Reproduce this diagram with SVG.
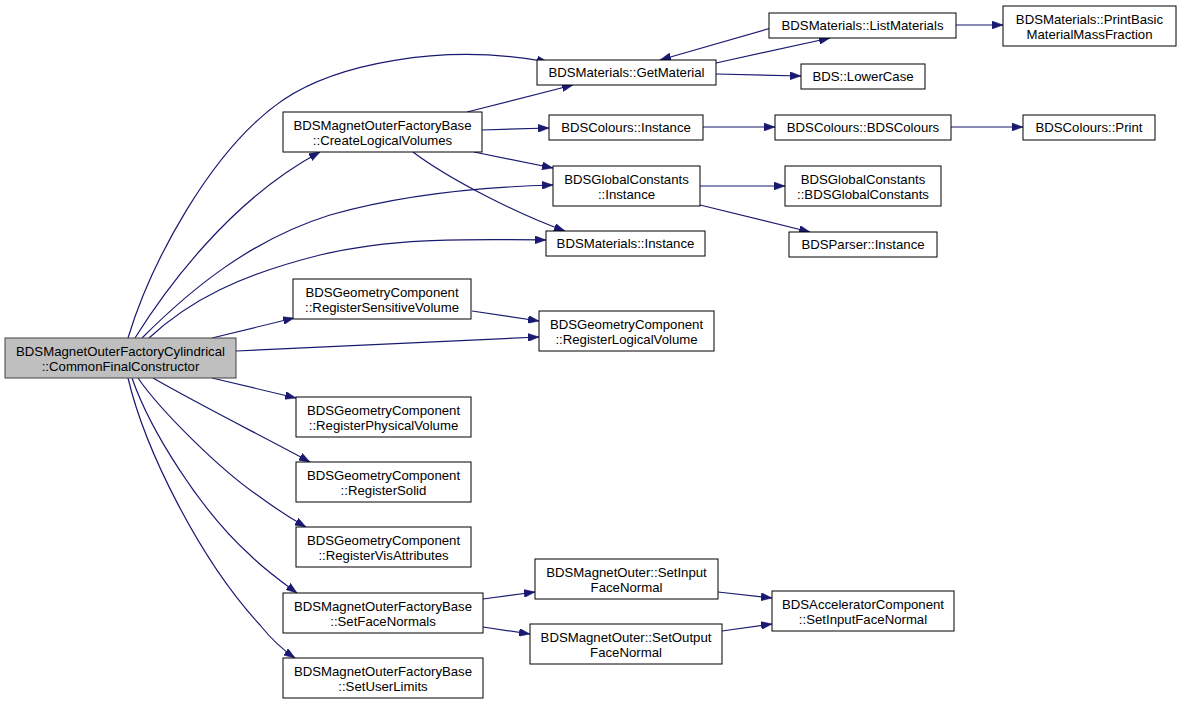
<svg xmlns="http://www.w3.org/2000/svg" width="1180" height="704" viewBox="0 0 1180 704">
<defs>
<style>
.n rect{fill:#ffffff;stroke:#000000;stroke-width:1}
.n.main rect{fill:#bfbfbf;stroke:#404040}
.n text{font-family:"Liberation Sans",Arial,Helvetica,sans-serif;font-size:13.2px;fill:#000000;text-anchor:middle}
.e path{fill:none;stroke:#191970;stroke-width:1.2;marker-end:url(#ah)}
</style>
<marker id="ah" viewBox="0 0 11 8" refX="11" refY="4" markerWidth="11" markerHeight="8" markerUnits="userSpaceOnUse" orient="auto">
<path d="M0,0 L11,4 L0,8 z" fill="#191970" stroke="#191970" stroke-width="0.5"/>
</marker>
</defs>
<rect width="1180" height="704" fill="#ffffff"/>
<g id="connectors" class="e">
<path d="M128,338 C150,265 210,150 283,100 C335,65 440,42 548,62"/>
<path d="M135,338 C165,290 230,200 320,152"/>
<path d="M142,338 C190,290 250,240 330,215 C400,195 480,187 553,185"/>
<path d="M149,338 C190,300 240,275 320,255 C390,238 460,239 546,240"/>
<path d="M212,338 L294,318"/>
<path d="M236,351 L539,337"/>
<path d="M212,378 L296,398"/>
<path d="M153,378 C200,405 260,435 310,462"/>
<path d="M138,378 C160,410 220,470 260,497 C275,508 290,518 306,527"/>
<path d="M132,378 C150,430 200,510 250,555 C265,570 282,582 297,593"/>
<path d="M128,378 C145,450 200,560 260,625 C272,640 283,650 295,658"/>
<path d="M467,112 L573,85"/>
<path d="M482,130 L549,128"/>
<path d="M474,152 L553,168"/>
<path d="M413,152 C450,180 520,215 565,231"/>
<path d="M716,63 L830,38"/>
<path d="M771,28 L660,60"/>
<path d="M716,74 L801,76"/>
<path d="M956,25 L1003,25"/>
<path d="M703,127 L775,127"/>
<path d="M951,127 L1023,127"/>
<path d="M700,186 L785,186"/>
<path d="M700,205 L810,232"/>
<path d="M472,311 L539,321"/>
<path d="M483,599 L535,592"/>
<path d="M483,627 L530,634"/>
<path d="M718,592 L772,598"/>
<path d="M722,631 L772,624"/>
</g>
<g id="n_main" class="n main"><rect x="5" y="338" width="231" height="40"/><text x="120.5" y="356">BDSMagnetOuterFactoryCylindrical</text><text x="120.5" y="371">::CommonFinalConstructor</text></g>
<g id="n_createlogical" class="n"><rect x="283" y="112" width="199" height="40"/><text x="382.5" y="130">BDSMagnetOuterFactoryBase</text><text x="382.5" y="145">::CreateLogicalVolumes</text></g>
<g id="n_getmaterial" class="n"><rect x="537" y="60" width="179" height="25"/><text x="626.5" y="77">BDSMaterials::GetMaterial</text></g>
<g id="n_listmaterials" class="n"><rect x="769" y="13" width="187" height="25"/><text x="862.5" y="30">BDSMaterials::ListMaterials</text></g>
<g id="n_printbasic" class="n"><rect x="1003" y="6" width="173" height="40"/><text x="1089.5" y="24">BDSMaterials::PrintBasic</text><text x="1089.5" y="39">MaterialMassFraction</text></g>
<g id="n_lowercase" class="n"><rect x="801" y="64" width="124" height="25"/><text x="863" y="81">BDS::LowerCase</text></g>
<g id="n_coloursinstance" class="n"><rect x="549" y="115" width="154" height="25"/><text x="626" y="132">BDSColours::Instance</text></g>
<g id="n_bdscolours" class="n"><rect x="775" y="115" width="176" height="25"/><text x="863" y="132">BDSColours::BDSColours</text></g>
<g id="n_colourprint" class="n"><rect x="1023" y="115" width="132" height="25"/><text x="1089" y="132">BDSColours::Print</text></g>
<g id="n_gcinstance" class="n"><rect x="553" y="166" width="147" height="40"/><text x="626.5" y="184">BDSGlobalConstants</text><text x="626.5" y="199">::Instance</text></g>
<g id="n_gcctor" class="n"><rect x="785" y="166" width="156" height="40"/><text x="863" y="184">BDSGlobalConstants</text><text x="863" y="199">::BDSGlobalConstants</text></g>
<g id="n_matinstance" class="n"><rect x="546" y="231" width="159" height="25"/><text x="625.5" y="248">BDSMaterials::Instance</text></g>
<g id="n_parserinstance" class="n"><rect x="789" y="232" width="148" height="25"/><text x="863" y="249">BDSParser::Instance</text></g>
<g id="n_regsensitive" class="n"><rect x="293" y="279" width="178" height="40"/><text x="382" y="297">BDSGeometryComponent</text><text x="382" y="312">::RegisterSensitiveVolume</text></g>
<g id="n_reglogical" class="n"><rect x="539" y="311" width="175" height="40"/><text x="626.5" y="329">BDSGeometryComponent</text><text x="626.5" y="344">::RegisterLogicalVolume</text></g>
<g id="n_regphysical" class="n"><rect x="296" y="397" width="175" height="40"/><text x="383.5" y="415">BDSGeometryComponent</text><text x="383.5" y="430">::RegisterPhysicalVolume</text></g>
<g id="n_regsolid" class="n"><rect x="296" y="462" width="175" height="40"/><text x="383.5" y="480">BDSGeometryComponent</text><text x="383.5" y="495">::RegisterSolid</text></g>
<g id="n_regvis" class="n"><rect x="296" y="527" width="175" height="40"/><text x="383.5" y="545">BDSGeometryComponent</text><text x="383.5" y="560">::RegisterVisAttributes</text></g>
<g id="n_setfacenormals" class="n"><rect x="283" y="593" width="200" height="40"/><text x="383" y="611">BDSMagnetOuterFactoryBase</text><text x="383" y="626">::SetFaceNormals</text></g>
<g id="n_setuserlimits" class="n"><rect x="283" y="658" width="200" height="40"/><text x="383" y="676">BDSMagnetOuterFactoryBase</text><text x="383" y="691">::SetUserLimits</text></g>
<g id="n_setinput" class="n"><rect x="535" y="559" width="183" height="40"/><text x="626.5" y="577">BDSMagnetOuter::SetInput</text><text x="626.5" y="592">FaceNormal</text></g>
<g id="n_setoutput" class="n"><rect x="530" y="624" width="192" height="40"/><text x="626" y="642">BDSMagnetOuter::SetOutput</text><text x="626" y="657">FaceNormal</text></g>
<g id="n_accinput" class="n"><rect x="772" y="591" width="182" height="40"/><text x="863" y="609">BDSAcceleratorComponent</text><text x="863" y="624">::SetInputFaceNormal</text></g>
</svg>
